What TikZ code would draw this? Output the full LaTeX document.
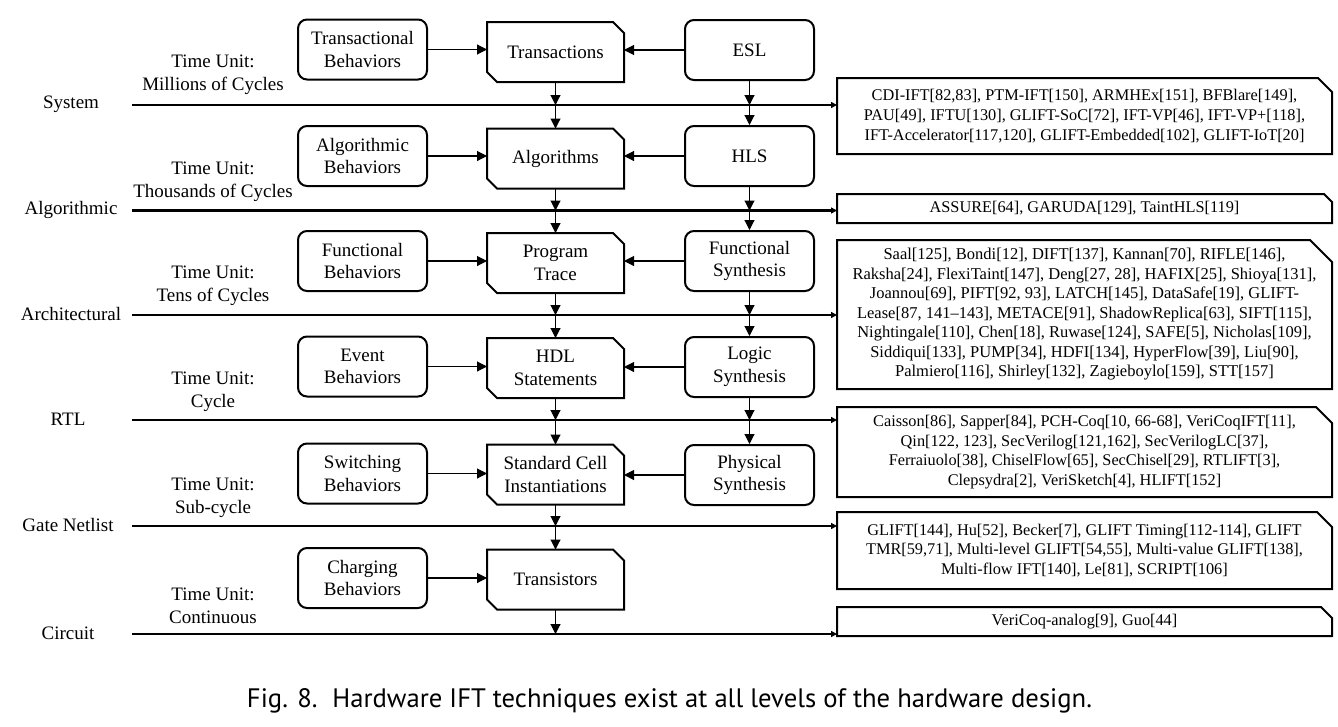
\documentclass[tikz,border=0pt]{standalone}
\usepackage{fontspec}
\setmainfont{Liberation Serif}
\newfontfamily\capfont{PT Sans}
\usetikzlibrary{arrows.meta,calc}
\newcommand\cutframe[3]{%
  \draw[line width=2pt,line join=miter] (#1.north west) -- ([xshift=-#2]#1.north east) -- ([yshift=-#2]#1.north east)
     -- (#1.south east) -- ([xshift=#3]#1.south west) -- ([yshift=#3]#1.south west) -- cycle;}
\newcommand\refframe[2]{%
  \draw[line width=2pt,line join=miter] (#1.north west) -- ([xshift=-#2]#1.north east) -- ([yshift=-#2]#1.north east)
     -- (#1.south east) -- (#1.south west) -- cycle;}
\begin{document}
\begin{tikzpicture}[x=1pt,y=-1pt,
  txt/.style={font=\fontsize{19}{22.5}\selectfont, align=center, inner sep=0pt},
  rbox/.style={txt, draw, line width=2pt, rounded corners=9pt, minimum width=129pt, minimum height=60pt},
  midbox/.style={txt, outer sep=0pt, minimum width=137pt, minimum height=60pt},
  refbox/.style={font=\fontsize{16.3}{19.5}\selectfont, align=center, inner sep=0pt, outer sep=0pt, minimum width=495pt},
  flow/.style={-{Triangle[length=10pt,width=10pt]}, line width=1.1pt},
  level/.style={line width=2.5pt, -{Triangle[length=6pt,width=6pt]}},
  lvl/.style={txt},
  tu/.style={txt}]
\useasboundingbox (0,0) rectangle (1338,726);

% level labels and line starts
\node[lvl] (L1) at (71,104) {System};
\node[lvl] (L2) at (71,210) {Algorithmic};
\node[lvl] (L3) at (71,314) {Architectural};
\node[lvl] (L4) at (68,419) {RTL};
\node[lvl] (L5) at (68,525) {Gate Netlist};
\node[lvl] (L6) at (68,633) {Circuit};
\coordinate (s1) at (132,105);
\coordinate (s2) at (132,210.5);
\coordinate (s3) at (132,315);
\coordinate (s4) at (132,420);
\coordinate (s5) at (132,526);
\coordinate (s6) at (132,634);

% time units
\node[tu] (T1) at (213,75) {Time Unit:\\Millions of Cycles};
\node[tu] (T2) at (213,182) {Time Unit:\\Thousands of Cycles};
\node[tu] (T3) at (213,286) {Time Unit:\\Tens of Cycles};
\node[tu] (T4) at (213,392) {Time Unit:\\Cycle};
\node[tu] (T5) at (213,498) {Time Unit:\\Sub-cycle};
\node[tu] (T6) at (213,606) {Time Unit:\\Continuous};

% left column
\node[rbox] (l1) at (362.5,49.5) {Transactional\\Behaviors};
\node[rbox] (l2) at (362.5,156) {Algorithmic\\Behaviors};
\node[rbox] (l3) at (362.5,261) {Functional\\Behaviors};
\node[rbox] (l4) at (362.5,366.5) {Event\\Behaviors};
\node[rbox] (l5) at (362.5,473.5) {Switching\\Behaviors};
\node[rbox] (l6) at (362.5,578) {Charging\\Behaviors};

% middle column
\node[midbox] (m1) at (555.5,52) {Transactions};
\node[midbox] (m2) at (555.5,158.5) {Algorithms};
\node[midbox] (m3) at (555.5,263) {Program\\Trace};
\node[midbox] (m4) at (555.5,368) {HDL\\Statements};
\node[midbox] (m5) at (555.5,474.5) {Standard Cell\\Instantiations};
\node[midbox] (m6) at (555.5,579.5) {Transistors};
\foreach \m in {m1,m2,m3,m4,m5,m6} {\cutframe{\m}{11pt}{10pt}}

% right column
\node[rbox] (r1) at (749.5,50) {ESL};
\node[rbox] (r2) at (749.5,156) {HLS};
\node[rbox] (r3) at (749.5,261) {Functional\\Synthesis};
\node[rbox] (r4) at (749.5,367) {Logic\\Synthesis};
\node[rbox] (r5) at (749.5,475) {Physical\\Synthesis};

% reference boxes
\node[refbox, font=\fontsize{16.3}{20.3}\selectfont, minimum height=76pt] (b1) at (1084.5,116) {CDI-IFT[82,83], PTM-IFT[150], ARMHEx[151], BFBlare[149],\\PAU[49], IFTU[130], GLIFT-SoC[72], IFT-VP[46], IFT-VP+[118],\\IFT-Accelerator[117,120], GLIFT-Embedded[102], GLIFT-IoT[20]};
\node[refbox, minimum height=29pt] (b2) at (1084.5,208.5) {ASSURE[64], GARUDA[129], TaintHLS[119]};
\node[refbox, font=\fontsize{16.5}{19.5}\selectfont, minimum height=149pt] (b3) at (1084.5,314.5) {Saal[125], Bondi[12], DIFT[137], Kannan[70], RIFLE[146],\\Raksha[24], FlexiTaint[147], Deng[27, 28], HAFIX[25], Shioya[131],\\Joannou[69], PIFT[92, 93], LATCH[145], DataSafe[19], GLIFT-\\Lease[87, 141--143], METACE[91], ShadowReplica[63], SIFT[115],\\Nightingale[110], Chen[18], Ruwase[124], SAFE[5], Nicholas[109],\\Siddiqui[133], PUMP[34], HDFI[134], HyperFlow[39], Liu[90],\\Palmiero[116], Shirley[132], Zagieboylo[159], STT[157]};
\node[refbox, minimum height=90pt] (b4) at (1084.5,452) {Caisson[86], Sapper[84], PCH-Coq[10, 66-68], VeriCoqIFT[11],\\Qin[122, 123], SecVerilog[121,162], SecVerilogLC[37],\\Ferraiuolo[38], ChiselFlow[65], SecChisel[29], RTLIFT[3],\\Clepsydra[2], VeriSketch[4], HLIFT[152]};
\node[refbox, minimum height=77pt] (b5) at (1084.5,550.5) {GLIFT[144], Hu[52], Becker[7], GLIFT Timing[112-114], GLIFT\\TMR[59,71], Multi-level GLIFT[54,55], Multi-value GLIFT[138],\\Multi-flow IFT[140], Le[81], SCRIPT[106]};
\node[refbox, minimum height=29pt] (b6) at (1084.5,621.5) {VeriCoq-analog[9], Guo[44]};
\refframe{b1}{14pt}
\refframe{b2}{8pt}
\refframe{b3}{22pt}
\refframe{b4}{16pt}
\refframe{b5}{15pt}
\refframe{b6}{11pt}

% level lines
\draw[level] (s1) -- (s1 -| b1.west);
\draw[level] (s2) -- (s2 -| b2.west);
\draw[level] (s3) -- (s3 -| b3.west);
\draw[level] (s4) -- (s4 -| b4.west);
\draw[level] (s5) -- (s5 -| b5.west);
\draw[level] (s6) -- (s6 -| b6.west);

% horizontal flows
\foreach \i in {1,...,6} {\draw[flow] (l\i.east) -- (l\i.east -| m\i.west);}
\foreach \i in {1,...,5} {\draw[flow] (r\i.west) -- (r\i.west -| m\i.east);}

% vertical flows, middle column
\draw[flow] (m1.south) -- (m1.south |- s1);
\draw[flow] (m1.south |- s1) -- (m2.north);
\draw[flow] (m2.south) -- (m2.south |- s2);
\draw[flow] (m2.south |- s2) -- (m3.north);
\draw[flow] (m3.south) -- (m3.south |- s3);
\draw[flow] (m3.south |- s3) -- (m4.north);
\draw[flow] (m4.south) -- (m4.south |- s4);
\draw[flow] (m4.south |- s4) -- (m5.north);
\draw[flow] (m5.south) -- (m5.south |- s5);
\draw[flow] (m5.south |- s5) -- (m6.north);
\draw[flow] (m6.south) -- (m6.south |- s6);
% vertical flows, right column
\draw[flow] (r1.south) -- (r1.south |- s1);
\draw[flow] (r1.south |- s1) -- (r2.north);
\draw[flow] (r2.south) -- (r2.south |- s2);
\draw[flow] (r2.south |- s2) -- (r3.north);
\draw[flow] (r3.south) -- (r3.south |- s3);
\draw[flow] (r3.south |- s3) -- (r4.north);
\draw[flow] (r4.south) -- (r4.south |- s4);
\draw[flow] (r4.south |- s4) -- (r5.north);

% caption
\node[inner sep=0pt] (cap) at (669.5,701) {\resizebox{845pt}{!}{\capfont\fontsize{21}{25}\selectfont Fig. 8.\hspace{0.55em}Hardware IFT techniques exist at all levels of the hardware design.}};
\end{tikzpicture}
\end{document}
